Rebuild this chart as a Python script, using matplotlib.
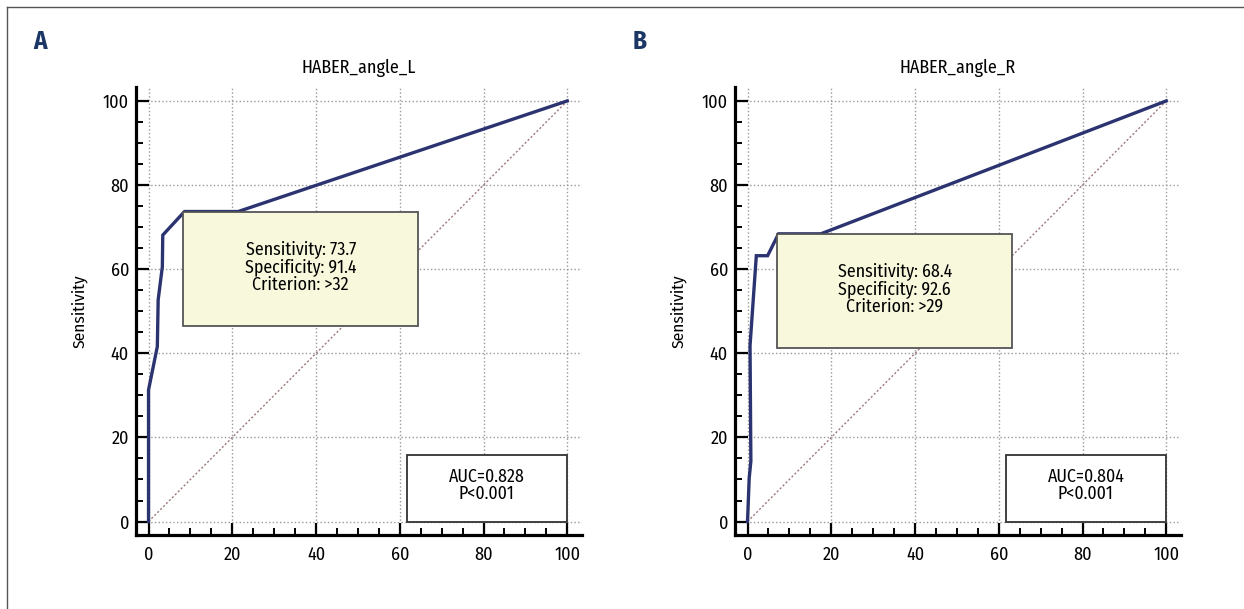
import matplotlib
matplotlib.use("Agg")
from matplotlib import pyplot as plt
from matplotlib.lines import Line2D
from matplotlib.patches import Rectangle
from matplotlib.ticker import MultipleLocator

plt.rcParams['font.family'] = ['Fira Sans Condensed', 'DejaVu Sans']

# ROC points: 100-specificity (x) vs sensitivity (y)
fpr_L = [0, 0, 2.1, 2.3, 3.3, 3.4, 8.6, 21.4, 100]
tpr_L = [0, 31.3, 41.6, 52.7, 60.6, 68.1, 73.7, 73.7, 100]
fpr_R = [0, 0.4, 0.8, 0.6, 2.1, 4.8, 7.4, 17.5, 100]
tpr_R = [0, 10.3, 14.4, 41.8, 63.2, 63.2, 68.4, 68.4, 100]

titles = ["HABER_angle_L", "HABER_angle_R"]
letters = ["A", "B"]
sens = [73.7, 68.4]
spec = [91.4, 92.6]
crit = [">32", ">29"]
auc = [0.828, 0.804]
pval = ["P<0.001", "P<0.001"]
# criterion box extents (x0, x1, y_bottom)
crit_box = [(8.3, 64.4, 46.5), (7.1, 63.2, 41.3)]

fig = plt.figure(figsize=(12.44, 6.09), dpi=100)
lefts = [0.1093, 0.5908]
curves = [(fpr_L, tpr_L), (fpr_R, tpr_R)]
navy = "#2b3470"

for i in range(2):
    ax = fig.add_axes([lefts[i], 0.1215, 0.3585, 0.7356])
    ax.set_xlim(-3, 103.5)
    ax.set_ylim(-3.2, 103.3)
    for s in ["top", "right"]:
        ax.spines[s].set_visible(False)
    for s in ["left", "bottom"]:
        ax.spines[s].set_linewidth(2.3)
    ax.xaxis.set_major_locator(MultipleLocator(20))
    ax.yaxis.set_major_locator(MultipleLocator(20))
    ax.xaxis.set_minor_locator(MultipleLocator(5))
    ax.yaxis.set_minor_locator(MultipleLocator(5))
    ax.tick_params(which="major", direction="in", length=9, width=1.6, labelsize=13, pad=8)
    ax.tick_params(which="minor", direction="in", length=5, width=1.4)
    ax.tick_params(axis="y", which="major", pad=5)
    ax.grid(True, which="major", linestyle=":", color="#999999", linewidth=1)
    ax.set_axisbelow(True)

    ax.plot([0, 100], [0, 100], linestyle=(0, (1.5, 1.5)), color="#9c7a7a", linewidth=1, zorder=2)
    fx, fy = curves[i]
    ax.plot(fx, fy, color=navy, linewidth=2.4, solid_joinstyle="miter", zorder=3)

    x0, x1, yb = crit_box[i]
    ax.add_patch(Rectangle((x0, yb), x1 - x0, sens[i] - yb, facecolor="#f8f8dc",
                           edgecolor="#555555", linewidth=1.3, zorder=4))
    ax.text((x0 + x1) / 2, (yb + sens[i]) / 2 + 0.5,
            f"Sensitivity: {sens[i]}\nSpecificity: {spec[i]}\nCriterion: {crit[i]}",
            ha="center", va="center", fontsize=12.8, linespacing=1.0, zorder=5)

    ax.add_patch(Rectangle((61.7, 0), 38.3, 15.8, facecolor="white",
                           edgecolor="#333333", linewidth=1.3, zorder=4))
    ax.text(80.8, 8.6, f"AUC={auc[i]}\n{pval[i]}", ha="center", va="center",
            fontsize=12.8, linespacing=1.0, zorder=5)

    ax.set_title(titles[i], fontsize=13, pad=10)
    ax.set_ylabel("Sensitivity", fontsize=12.5)
    ax.yaxis.set_label_coords(-0.108, 0.5)

    fig.text(lefts[i] - 0.077, 0.931, letters[i], fontsize=18, fontweight="bold",
             color="#1c3766", ha="center", va="center")

# frame lines at top and left of the figure
fig.add_artist(Line2D([7 / 1244, 1], [1 - 7 / 609, 1 - 7 / 609], color="#555555", linewidth=1))
fig.add_artist(Line2D([7 / 1244, 7 / 1244], [0, 1 - 7 / 609], color="#555555", linewidth=1))

fig.savefig("out.png", dpi=100)
